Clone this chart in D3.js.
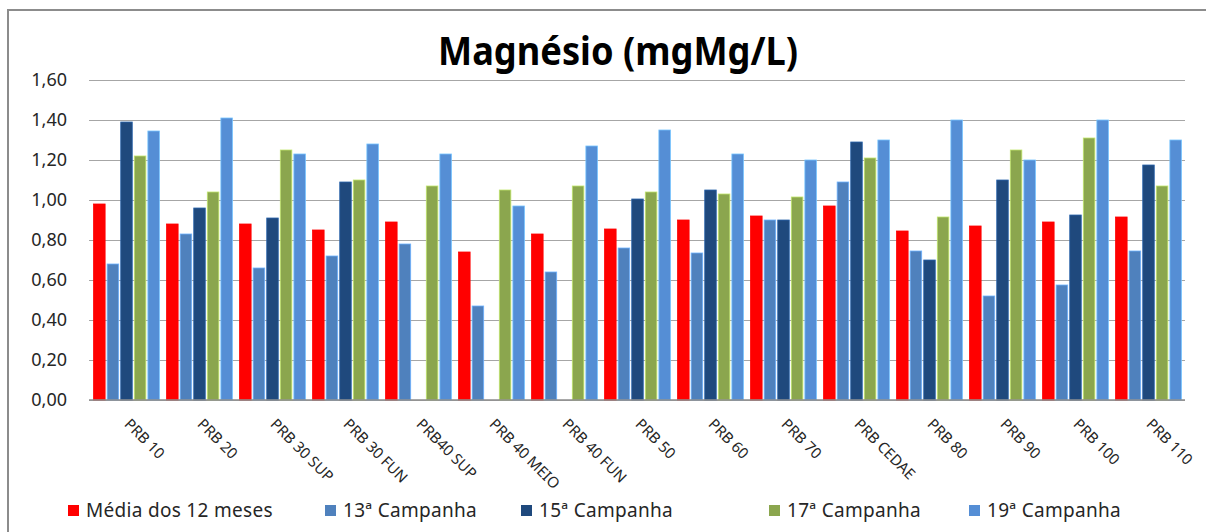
<!DOCTYPE html>
<html>
<head>
<meta charset="utf-8">
<script src="https://cdn.jsdelivr.net/npm/d3@7"></script>
<style>
	html, body { margin: 0; padding: 0; background: #fff; }
	#chart svg { display: block; }
	.grid-lines line { stroke: #a6a6a6; stroke-width: 1.2; }
	.grid-lines path { display: none; }
	.axis-left path, .axis-left line { display: none; }
	.axis-left text { font-family: 'Noto Sans', sans-serif; font-size: 18px; fill: #262626; }
	.axis-bottom text { font-family: 'Noto Sans', sans-serif; font-size: 15px; fill: #262626; }
	.legend text { font-family: 'Noto Sans', sans-serif; font-size: 19px; letter-spacing: 0.3px; fill: #262626; }
</style>
</head>
<body>
<div id="chart"></div>
<script>
(function () {
	'use strict';

	// categories + series
	var categories = ['PRB 10', 'PRB 20', 'PRB 30 SUP', 'PRB 30 FUN', 'PRB40 SUP', 'PRB 40 MEIO', 'PRB 40 FUN',
		'PRB 50', 'PRB 60', 'PRB 70', 'PRB CEDAE', 'PRB 80', 'PRB 90', 'PRB 100', 'PRB 110'];
	var media12 = [0.98, 0.88, 0.88, 0.85, 0.89, 0.74, 0.83, 0.855, 0.90, 0.92, 0.97, 0.845, 0.87, 0.89, 0.915];
	var camp13 = [0.68, 0.83, 0.66, 0.72, 0.78, 0.47, 0.64, 0.76, 0.735, 0.90, 1.09, 0.745, 0.52, 0.575, 0.745];
	var camp15 = [1.39, 0.96, 0.91, 1.09, null, null, null, 1.005, 1.05, 0.90, 1.29, 0.70, 1.10, 0.925, 1.175];
	var camp17 = [1.22, 1.04, 1.25, 1.10, 1.07, 1.05, 1.07, 1.04, 1.03, 1.015, 1.21, 0.915, 1.25, 1.31, 1.07];
	var camp19 = [1.345, 1.41, 1.23, 1.28, 1.23, 0.97, 1.27, 1.35, 1.23, 1.20, 1.30, 1.40, 1.20, 1.40, 1.30];

	var seriesNames = ['Média dos 12 meses', '13ª Campanha', '15ª Campanha', '17ª Campanha', '19ª Campanha'];
	var seriesValues = [media12, camp13, camp15, camp17, camp19];
	var seriesColors = ['#ff0000', '#4f81bd', '#1f497d', '#8ba64e', '#558ed5'];
	var yTicks = [0, 0.2, 0.4, 0.6, 0.8, 1.0, 1.2, 1.4, 1.6];

	var titleText = 'Magnésio (mgMg/L)';

	var width = 1206,
		height = 532,
		plot = { left: 90, right: 1185, top: 80, bottom: 400 },
		legendX = [68, 325, 521, 769, 969];

	var ptBR = d3.formatLocale({ decimal: ',', thousands: '.', grouping: [3], currency: ['', ''] });

	var svg = d3.select('#chart')
		.append('svg')
			.attr('width', width)
			.attr('height', height);

	// frame (runs off the right and bottom edges)
	svg.append('rect')
		.attr('x', 8)
		.attr('y', 10)
		.attr('width', width + 20)
		.attr('height', height + 20)
		.attr('fill', '#fff')
		.attr('stroke', '#8c8c8c')
		.attr('stroke-width', 2);

	var xScale = d3.scaleBand()
			.domain(categories)
			.range([plot.left, plot.right])
			.paddingInner(0.07)
			.paddingOuter(0.035),
		xInner = d3.scaleBand()
			.domain(d3.range(seriesNames.length))
			.range([0, xScale.bandwidth()])
			.paddingInner(0.15)
			.paddingOuter(0.075),
		yScale = d3.scaleLinear().domain([0, 1.6]).range([plot.bottom, plot.top]);

	// grid
	svg.append('g')
		.attr('class', 'grid-lines')
		.attr('transform', 'translate(' + (plot.left - 1) + ',0)')
		.call(d3.axisLeft(yScale).tickValues(yTicks).tickSize(-(plot.right - plot.left + 1)).tickFormat(''));

	// y labels
	svg.append('g')
		.attr('class', 'axis-left')
		.attr('transform', 'translate(' + (plot.left - 23) + ',0)')
		.call(d3.axisLeft(yScale).tickValues(yTicks).tickSize(0).tickPadding(0).tickFormat(ptBR.format('.2f')));

	// BARS
	seriesValues.forEach(function (vals, s) {
		svg.append('g')
			.selectAll('rect')
			.data(vals.map(function (v, i) { return { cat: categories[i], value: v }; })
				.filter(function (d) { return d.value !== null; }))
			.enter()
			.append('rect')
				.attr('x', function (d) { return xScale(d.cat) + xInner(s); })
				.attr('y', function (d) { return yScale(d.value); })
				.attr('width', xInner.bandwidth())
				.attr('height', function (d) { return yScale(0) - yScale(d.value); })
				.attr('fill', seriesColors[s])
				.attr('stroke', d3.color(seriesColors[s]).brighter(0.9))
				.attr('stroke-width', 0.8);
	});

	// baseline
	svg.append('line')
		.attr('x1', plot.left - 1)
		.attr('x2', plot.right)
		.attr('y1', yScale(0))
		.attr('y2', yScale(0))
		.attr('stroke', '#8c8c8c')
		.attr('stroke-width', 1.5);

	// x labels, 45 deg, starting just left of the category centre
	var xAxis = svg.append('g')
		.attr('class', 'axis-bottom');

	xAxis.selectAll('text')
		.data(categories)
		.enter()
		.append('text')
			.attr('transform', function (d) {
				return 'translate(' + (xScale(d) + xScale.bandwidth() / 2 - 3) + ',' + (plot.bottom + 25) + ') rotate(45)';
			})
			.text(function (d) { return d; });

	// title
	var title = svg.append('text')
		.attr('x', 618)
		.attr('y', 65)
		.attr('text-anchor', 'middle')
		.attr('font-family', "'Noto Sans', sans-serif")
		.attr('font-weight', 'bold')
		.attr('font-size', 40)
		.attr('fill', '#000')
		.text(titleText);

	var titleLen = title.node().getComputedTextLength();
	if (titleLen > 360) {
		title.attr('textLength', 360).attr('lengthAdjust', 'spacingAndGlyphs');
	}

	// LEGEND
	var legend = svg.append('g').attr('class', 'legend');
	var items = legend.selectAll('g')
		.data(seriesNames)
		.enter()
		.append('g')
			.attr('transform', function (d, i) { return 'translate(' + legendX[i] + ',505)'; });

	items.append('rect')
		.attr('width', 11)
		.attr('height', 11)
		.attr('fill', function (d, i) { return seriesColors[i]; });

	items.append('text')
		.attr('x', 18)
		.attr('y', 12)
		.text(function (d) { return d; });
}());
</script>
</body>
</html>
